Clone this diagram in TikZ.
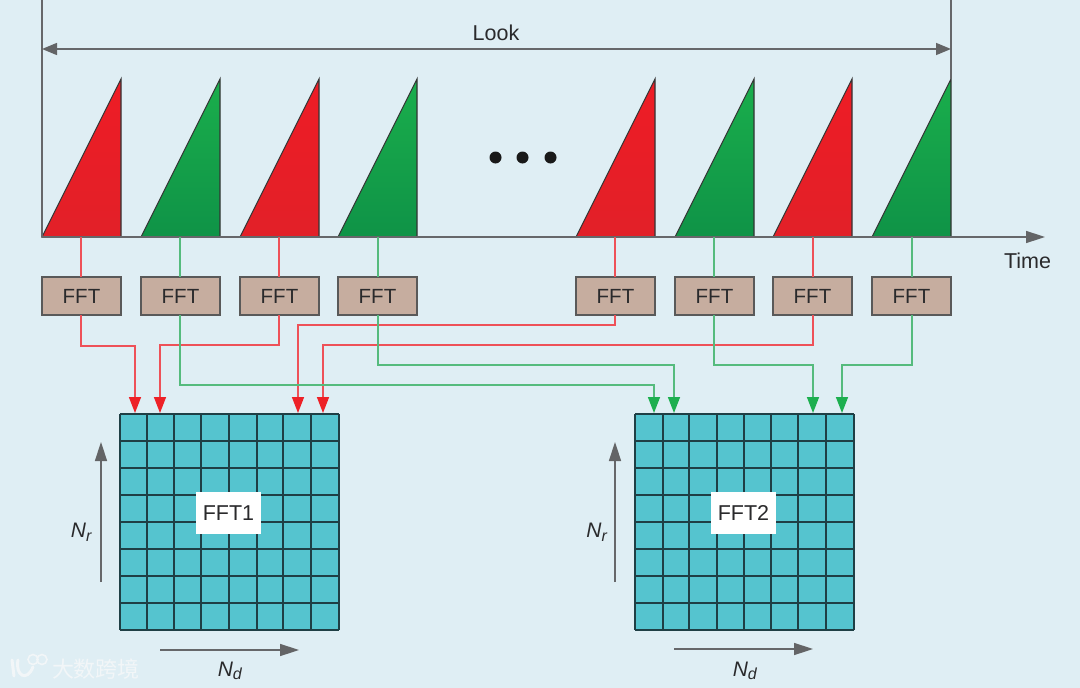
\documentclass[tikz,border=0pt]{standalone}
\usepackage{fontspec}
\setmainfont{Liberation Sans}
\newfontfamily\cjkwm{Noto Sans CJK SC}
\usetikzlibrary{arrows.meta,calc}
\definecolor{bgc}{HTML}{DFEEF4}
\definecolor{axisc}{HTML}{66676A}
\definecolor{redl}{HTML}{EE5158}
\definecolor{greenl}{HTML}{55BB7D}
\definecolor{redt}{HTML}{EE1C25}
\definecolor{redb}{HTML}{E22028}
\definecolor{greent}{HTML}{1AAE4C}
\definecolor{greenb}{HTML}{0F9347}
\definecolor{fftc}{HTML}{C6AD9F}
\definecolor{gridc}{HTML}{55C4CF}
\definecolor{gridl}{HTML}{1F3F45}
\definecolor{tipred}{HTML}{ED2127}
\definecolor{tipgreen}{HTML}{1DAF4F}
\definecolor{tipgray}{HTML}{636466}
\definecolor{textc}{HTML}{2A2A2C}
\definecolor{wmc}{HTML}{F2F6F8}
\tikzset{
  x=1pt,y=-1pt,
  axisline/.style={draw=axisc,line width=1.5pt},
  dimarrow/.style={axisline,{Triangle[length=15pt,width=12pt,color=tipgray]}-{Triangle[length=15pt,width=12pt,color=tipgray]}},
  onearrow/.style={axisline,-{Triangle[length=19pt,width=12pt,color=tipgray]}},
  redchirp/.style={draw=black!80,line width=1.1pt,line join=miter,top color=redt,bottom color=redb},
  greenchirp/.style={draw=black!80,line width=1.1pt,line join=miter,top color=greent,bottom color=greenb},
  fftbox/.style={draw=black!65,line width=1.5pt,fill=fftc,minimum width=79pt,minimum height=38pt,inner sep=0pt,outer sep=0pt,text=textc,font=\fontsize{20.5}{20.5}\selectfont},
  redwire/.style={draw=redl,line width=1.5pt},
  greenwire/.style={draw=greenl,line width=1.5pt},
  redfeed/.style={redwire,-{Triangle[length=16pt,width=12pt,color=tipred]}},
  greenfeed/.style={greenwire,-{Triangle[length=16pt,width=12pt,color=tipgreen]}},
  gridlabel/.style={fill=white,minimum width=65pt,minimum height=42pt,inner sep=0pt,text=textc,font=\fontsize{21.5}{21.5}\selectfont},
  axislabel/.style={inner sep=0pt,text=textc,font=\fontsize{21}{21}\selectfont},
  plain/.style={inner sep=0pt,text=textc,font=\fontsize{21.5}{21.5}\selectfont},
  matrixgrid/.style={draw=gridl,line width=1.5pt},
}
\newcommand{\labN}[1]{\textit{N}\raisebox{-0.32ex}{\fontsize{16}{16}\selectfont\textit{#1}}}
\begin{document}
\begin{tikzpicture}
\path[use as bounding box,fill=bgc] (0,0) rectangle (1080,688);

% chirps and FFT boxes
\foreach \n/\xx/\mid/\sty in {1/42/81/redchirp,2/141/180/greenchirp,3/240/279/redchirp,4/338/378/greenchirp,5/576/615/redchirp,6/675/714/greenchirp,7/773/813/redchirp,8/872/912/greenchirp}{
  \draw[\sty] (\xx,237) -- (\xx+79,79) -- (\xx+79,237) -- cycle;
  \coordinate (c\n) at (\mid,237);
  \node[fftbox] (f\n) at (\xx+39.5,296) {FFT};
}

% axes
\coordinate (orig) at (42,237);
\coordinate (timeend) at (1045,237);
\coordinate (ltop) at (42,0);
\coordinate (rtop) at (951,0);
\coordinate (rbase) at (951,79);
\coordinate (lookl) at (42,49);
\coordinate (lookr) at (951,49);
\draw[axisline,-{Triangle[length=19pt,width=12pt,color=tipgray]}] (orig) -- (timeend);
\draw[axisline] (ltop) -- (orig);
\draw[axisline] (rtop) -- (rbase);
\draw[dimarrow] (lookl) -- (lookr);
\node[plain] (look) at (496,33) {Look};
\node[plain] (time) at (1027.5,261) {Time};

% dots
\foreach \n/\xx in {1/495.5,2/522.5,3/550.5}{
  \fill[black!90] (\xx,157.5) circle (6);
}

% chirp to FFT
\foreach \n/\sty in {1/redwire,2/greenwire,3/redwire,4/greenwire,5/redwire,6/greenwire,7/redwire,8/greenwire}{
  \draw[\sty] (c\n) -- (c\n |- f\n.north);
}

% grids
\fill[gridc] (120,414) rectangle (339,630);
\fill[gridc] (635,414) rectangle (854,630);
\foreach \xx in {120,147,174,201,229,257,283,311,339}{
  \draw[matrixgrid] (\xx,414) -- (\xx,630);
}
\foreach \xx in {635,663,689,717,744,771,798,826,854}{
  \draw[matrixgrid] (\xx,414) -- (\xx,630);
}
\foreach \yy in {414,441,468,495,522,549,576,603,630}{
  \draw[matrixgrid] (120,\yy) -- (339,\yy);
  \draw[matrixgrid] (635,\yy) -- (854,\yy);
}
\node[gridlabel] (g1) at (228.5,513) {FFT1};
\node[gridlabel] (g2) at (743.5,513) {FFT2};

% feed targets
\foreach \n/\xx in {a/135,b/160,c/298,d/323,e/654,f/674,g/813,h/842}{
  \coordinate (t\n) at (\xx,413);
}

% feeds
\draw[redfeed] (c1 |- f1.south) |- (ta |- 0,346) -- (ta);
\draw[redfeed] (c3 |- f3.south) |- (tb |- 0,345) -- (tb);
\draw[redfeed] (c5 |- f5.south) |- (tc |- 0,325) -- (tc);
\draw[redfeed] (c7 |- f7.south) |- (td |- 0,345) -- (td);
\draw[greenfeed] (c2 |- f2.south) |- (te |- 0,385) -- (te);
\draw[greenfeed] (c4 |- f4.south) |- (tf |- 0,365) -- (tf);
\draw[greenfeed] (c6 |- f6.south) |- (tg |- 0,365) -- (tg);
\draw[greenfeed] (c8 |- f8.south) |- (th |- 0,365) -- (th);

% dimension arrows
\coordinate (r1a) at (101,582); \coordinate (r1b) at (101,442);
\coordinate (r2a) at (615,582); \coordinate (r2b) at (615,442);
\coordinate (d1a) at (160,650); \coordinate (d1b) at (299,650);
\coordinate (d2a) at (674,649); \coordinate (d2b) at (813,649);
\draw[onearrow] (r1a) -- (r1b);
\draw[onearrow] (r2a) -- (r2b);
\draw[onearrow] (d1a) -- (d1b);
\draw[onearrow] (d2a) -- (d2b);
\node[axislabel] (nr1) at (81.5,532) {\labN{r}};
\node[axislabel] (nr2) at (597,532) {\labN{r}};
\node[axislabel] (nd1) at (230,671) {\labN{d}};
\node[axislabel] (nd2) at (745,671) {\labN{d}};

% watermark
\begin{scope}[draw=wmc,line width=3pt,line cap=round]
  \draw (12,660) -- (14,676);
  \draw (18,660) .. controls (15,676) and (27,682) .. (33,667);
\end{scope}
\begin{scope}[draw=wmc,line width=1.6pt]
  \draw (33,659.5) circle (5);
  \draw (42,659.5) circle (5);
\end{scope}
\node[inner sep=0pt,text=wmc,font=\cjkwm\fontsize{22}{22}\selectfont] (wm) at (96,669) {大数跨境};
\end{tikzpicture}
\end{document}
